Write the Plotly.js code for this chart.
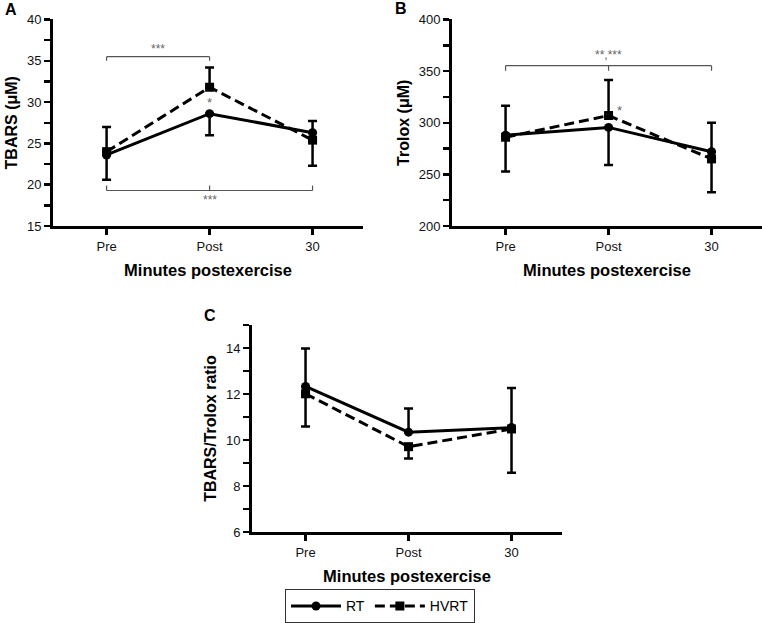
<!DOCTYPE html>
<html>
<head>
<meta charset="utf-8">
<script src="https://cdn.plot.ly/plotly-3.0.1.min.js"></script>
<style>html,body{margin:0;padding:0;background:#fff;}#chart{width:762px;height:623px;}</style>
</head>
<body>
<div id="chart"></div>
<script>
// ---- data ----
const categories = ["Pre", "Post", "30"];

// Panel A: TBARS (µM) — one-sided error bars (the higher mean shows the upper bar)
const tbarsRT = [23.6, 28.6, 26.3];
const tbarsRTplus = [0, 0, 1.4];
const tbarsRTminus = [3.0, 2.6, 0];
const tbarsHVRT = [24.0, 31.8, 25.4];
const tbarsHVRTplus = [3.0, 2.4, 0];
const tbarsHVRTminus = [0, 0, 3.1];

// Panel B: Trolox (µM)
const troloxRT = [288, 295.5, 272];
const troloxRTplus = [28.5, 0, 28];
const troloxRTminus = [0, 36.3, 0];
const troloxHVRT = [286, 307, 265];
const troloxHVRTplus = [0, 34.4, 0];
const troloxHVRTminus = [33.2, 0, 32.3];

// Panel C: TBARS/Trolox ratio
const ratioRT = [12.33, 10.34, 10.54];
const ratioRTplus = [1.65, 1.03, 1.72];
const ratioRTminus = [0, 0, 0];
const ratioHVRT = [12.01, 9.71, 10.48];
const ratioHVRTplus = [0, 0, 0];
const ratioHVRTminus = [1.42, 0.51, 1.9];

// significance brackets
const bracketsA = [
  {from: 0, to: 1, y: 35.5, tip: 35.0, mid: false, label: "***", ly: 36.4},
  {from: 0, to: 2, y: 19.3, tip: 19.9, mid: true, label: "***", ly: 18.2}
];
const bracketsB = [
  {from: 0, to: 2, y: 355.3, tip: 350.3, mid: true, label: "**,***", ly: 365.5}
];
const starsA = [{x: 1, y: 30.0, label: "*"}];
const starsB = [{x: 1.11, y: 312, label: "*"}];

// ---- styling ----
const FONT = "Liberation Sans, Arial, sans-serif";
const errStyle = {color: "#000", thickness: 2.5, width: 4.5};

function series(xa, ya, y, plus, minus, isRT, showleg) {
  return {
    type: "scatter", mode: "lines+markers",
    x: [0, 1, 2], y: y, xaxis: xa, yaxis: ya,
    name: isRT ? "RT" : "HVRT",
    showlegend: showleg, legendrank: isRT ? 1 : 2,
    line: {color: "#000", width: 3, dash: isRT ? "solid" : "10px,5px"},
    marker: {color: "#000", size: 9, symbol: isRT ? "circle" : "square"},
    error_y: Object.assign({type: "data", symmetric: false, array: plus, arrayminus: minus, visible: true}, errStyle),
    cliponaxis: false
  };
}

const traces = [
  series("x", "y", tbarsRT, tbarsRTplus, tbarsRTminus, true, true),
  series("x", "y", tbarsHVRT, tbarsHVRTplus, tbarsHVRTminus, false, true),
  series("x2", "y2", troloxRT, troloxRTplus, troloxRTminus, true, false),
  series("x2", "y2", troloxHVRT, troloxHVRTplus, troloxHVRTminus, false, false),
  series("x3", "y3", ratioRT, ratioRTplus, ratioRTminus, true, false),
  series("x3", "y3", ratioHVRT, ratioHVRTplus, ratioHVRTminus, false, false)
];

function xaxis(domain, anchor) {
  return {
    domain: domain, anchor: anchor, range: [-0.52, 2.49],
    tickmode: "array", tickvals: [0, 1, 2], ticktext: categories,
    showline: true, linecolor: "#000", linewidth: 3,
    ticks: "outside", ticklen: 6, tickwidth: 3, tickcolor: "#000",
    showgrid: false, zeroline: false, fixedrange: true, automargin: false,
    tickfont: {family: FONT, size: 13, color: "#111"},
    title: {text: "Minutes postexercise", font: {family: FONT, size: 16.5, color: "#000", weight: "bold"}, standoff: 12}
  };
}
function yaxis(domain, anchor, range, dtick, minor, title) {
  return {
    domain: domain, anchor: anchor, range: range,
    tickmode: "linear", tick0: range[0], dtick: dtick,
    showline: true, linecolor: "#000", linewidth: 3,
    ticks: "outside", ticklen: 6, tickwidth: 2.5, tickcolor: "#000",
    minor: {dtick: minor, tick0: range[0], ticks: "outside", ticklen: 6, tickwidth: 2.5, tickcolor: "#000", showgrid: false},
    showgrid: false, zeroline: false, fixedrange: true, automargin: false,
    tickfont: {family: FONT, size: 13, color: "#111"},
    title: {text: title, font: {family: FONT, size: 16, color: "#000", weight: "bold"}, standoff: 6}
  };
}

const shapes = [];
const annotations = [];
function addBrackets(list, xr, yr) {
  list.forEach(b => {
    shapes.push({type: "line", xref: xr, yref: yr, x0: b.from, x1: b.to, y0: b.y, y1: b.y, line: {color: "#555", width: 1.2}});
    const tips = b.mid ? [b.from, (b.from + b.to) / 2, b.to] : [b.from, b.to];
    tips.forEach(t => shapes.push({type: "line", xref: xr, yref: yr, x0: t, x1: t, y0: b.y, y1: b.tip, line: {color: "#555", width: 1.2}}));
    annotations.push({xref: xr, yref: yr, x: (b.from + b.to) / 2, y: b.ly, text: b.label, showarrow: false,
      font: {family: FONT, size: 12, color: "#666"}});
  });
}
function addStars(list, xr, yr) {
  list.forEach(s => annotations.push({xref: xr, yref: yr, x: s.x, y: s.y, text: s.label, showarrow: false,
    font: {family: FONT, size: 13, color: "#666"}}));
}
addBrackets(bracketsA, "x", "y");
addBrackets(bracketsB, "x2", "y2");
addStars(starsA, "x", "y");
addStars(starsB, "x2", "y2");

[["A", 0.004, 0.985], ["B", 0.516, 0.987], ["C", 0.265, 0.494]].forEach(p => {
  annotations.push({xref: "paper", yref: "paper", x: p[1], y: p[2], xanchor: "left", yanchor: "middle",
    text: "<b>" + p[0] + "</b>", showarrow: false, font: {family: FONT, size: 16, color: "#000"}});
});

const layout = {
  width: 762, height: 623,
  margin: {l: 0, r: 0, t: 0, b: 0, autoexpand: false},
  paper_bgcolor: "#fff", plot_bgcolor: "#fff",
  font: {family: FONT, color: "#000"},
  xaxis: xaxis([0.0696, 0.4764], "y"),
  yaxis: yaxis([0.6372, 0.9687], "x", [15, 40], 5, 2.5, "TBARS (μM)"),
  xaxis2: xaxis([0.5932, 1.0], "y2"),
  yaxis2: yaxis([0.6372, 0.9687], "x2", [200, 400], 50, 25, "Trolox (μM)"),
  xaxis3: xaxis([0.3307, 0.7375], "y3"),
  yaxis3: yaxis([0.1461, 0.4783], "x3", [6, 15], 2, 1, "TBARS/Trolox ratio"),
  showlegend: true,
  legend: {orientation: "h", x: 0.4987, xanchor: "center", y: 0.054, yanchor: "top",
    bordercolor: "#333", borderwidth: 1, bgcolor: "#fff",
    font: {family: FONT, size: 14, color: "#000"}, itemwidth: 50, tracegroupgap: 0},
  shapes: shapes,
  annotations: annotations
};

Plotly.newPlot("chart", traces, layout, {displayModeBar: false, staticPlot: true});
</script>
</body>
</html>
